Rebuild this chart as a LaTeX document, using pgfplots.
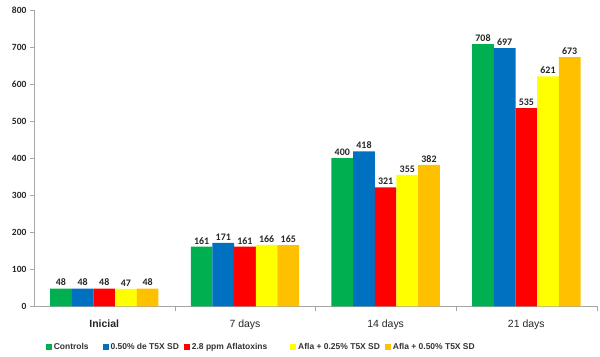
\documentclass[border=0pt]{standalone}
\usepackage{pgfplots}
\pgfplotsset{compat=1.18}
\usepackage{fontspec}
\setmainfont{Liberation Sans}
\newfontfamily\calfont{Carlito}
\definecolor{cgreen}{HTML}{00B050}
\definecolor{cblue}{HTML}{0070C0}
\definecolor{cred}{HTML}{FF0000}
\definecolor{cyellow}{HTML}{FFFF00}
\definecolor{corange}{HTML}{FFC000}
\begin{document}
\begin{tikzpicture}
\begin{axis}[
  scale only axis, width=564pt, height=297pt,
  ybar=0pt, bar width=0.154,
  xmin=-0.5, xmax=3.5, ymin=0, ymax=800,
  ytick={0,100,...,800},
  xtick={0,1,2,3},
  xticklabels={\textbf{Inicial},7 days,14 days,21 days},
  major x tick style={draw=none},
  extra x ticks={0.5,1.5,2.5,3.5},
  extra x tick labels={},
  extra x tick style={major tick length=5pt, major x tick style={draw=gray!70}},
  axis x line*=bottom, axis y line*=left,
  axis line style={-, gray!70},
  tick align=outside,
  major tick length=4pt,
  tick style={gray!70},
  /pgf/number format/assume math mode=true,
  y tick label style={font=\calfont\bfseries\fontsize{9.5}{10}\selectfont, color=black!85},
  x tick label style={font=\fontsize{10.5}{11}\selectfont, color=black!85, yshift=-6pt},
  nodes near coords,
  every node near coord/.append style={font=\calfont\bfseries\fontsize{10}{10}\selectfont, color=black!85, yshift=-1pt},
  legend style={at={(0.404,-0.138)}, anchor=center, draw=none, legend columns=5,
    font=\bfseries\fontsize{8.5}{9}\selectfont, text=black!80,
    /tikz/every even column/.append style={column sep=3pt}},
  legend image code/.code={\fill[#1] (0pt,-3pt) rectangle (6pt,3pt);},
]
\addplot[fill=cgreen, draw=none] coordinates {(0,48) (1,161) (2,400) (3,708)};
\addplot[fill=cblue, draw=none] coordinates {(0,48) (1,171) (2,418) (3,697)};
\addplot[fill=cred, draw=none] coordinates {(0,48) (1,161) (2,321) (3,535)};
\addplot[fill=cyellow, draw=none] coordinates {(0,47) (1,166) (2,355) (3,621)};
\addplot[fill=corange, draw=none] coordinates {(0,48) (1,165) (2,382) (3,673)};
\legend{Controls\hspace*{9pt}\mbox{}, 0.50\% de T5X SD, 2.8 ppm Aflatoxins\hspace*{18pt}\mbox{}, Afla + 0.25\% T5X SD, Afla + 0.50\% T5X SD}
\end{axis}
\path ([xshift=-34pt,yshift=-50pt]current axis.south west) rectangle ([xshift=2pt,yshift=10pt]current axis.north east);
\end{tikzpicture}
\end{document}
